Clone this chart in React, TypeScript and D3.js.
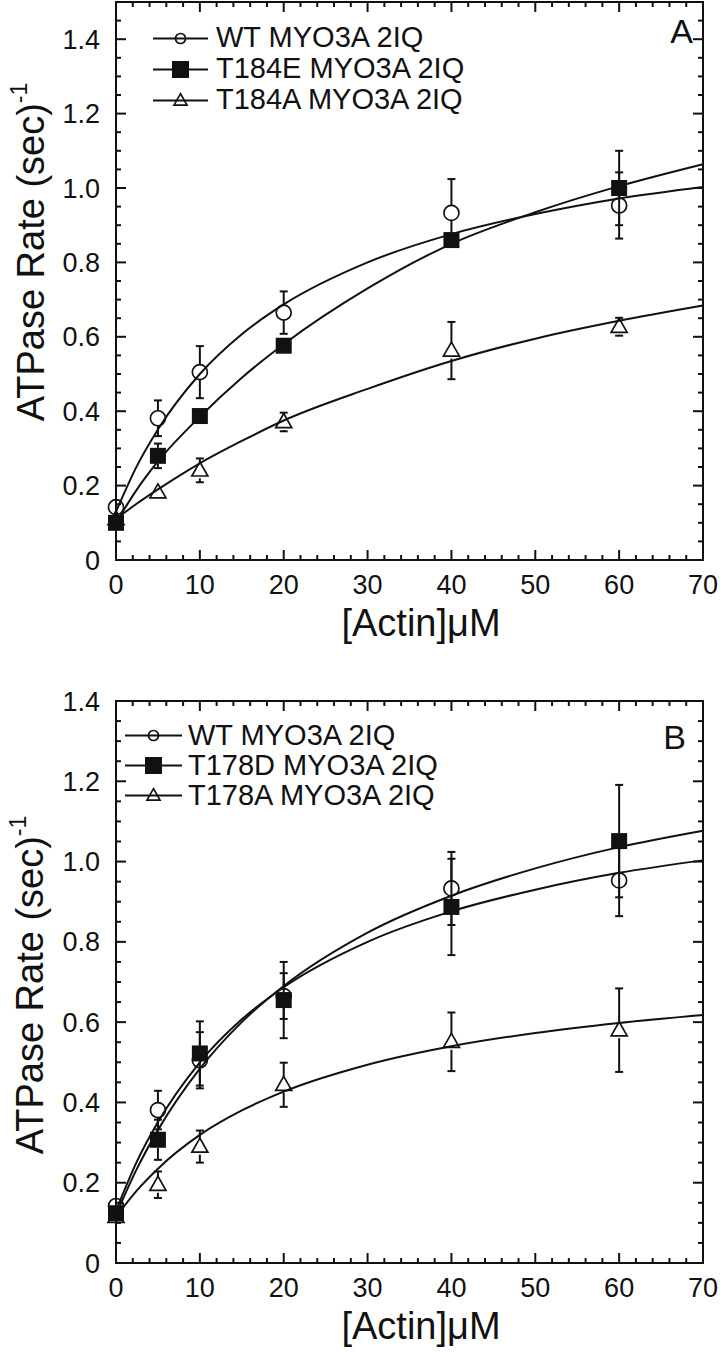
import React from "react";
import * as d3 from "d3";

// ---------- data ----------
const actin = [0, 5, 10, 20, 40, 60];
const fitX = [0, 2.5, 5, 10, 15, 20, 30, 40, 50, 60, 70];

const xTicks = [0, 10, 20, 30, 40, 50, 60, 70];
const yTicks = [0, 0.2, 0.4, 0.6, 0.8, 1.0, 1.2, 1.4];

const wtRate = [0.142, 0.381, 0.505, 0.665, 0.933, 0.953];
const wtErr = [0, 0.048, 0.07, 0.057, 0.091, 0.089];
const wtFit = [0.13, 0.253, 0.351, 0.5, 0.607, 0.687, 0.8, 0.876, 0.93, 0.972, 1.003];

const t184eRate = [0.1, 0.28, 0.387, 0.576, 0.86, 1.0];
const t184eErr = [0, 0.033, 0.02, 0.02, 0.015, 0.1];
const t184eFit = [0.1, 0.19, 0.265, 0.385, 0.49, 0.58, 0.73, 0.85, 0.935, 1.005, 1.064];

const t184aRate = [0.11, 0.182, 0.241, 0.371, 0.563, 0.627];
const t184aErr = [0, 0, 0.032, 0.025, 0.077, 0.024];
const t184aFit = [0.11, 0.152, 0.19, 0.26, 0.32, 0.375, 0.46, 0.535, 0.595, 0.643, 0.684];

const t178dRate = [0.124, 0.307, 0.522, 0.655, 0.887, 1.051];
const t178dErr = [0, 0.05, 0.08, 0.095, 0.12, 0.14];
const t178dFit = [0.12, 0.235, 0.331, 0.484, 0.6, 0.69, 0.823, 0.915, 0.983, 1.036, 1.077];

const t178aRate = [0.115, 0.195, 0.29, 0.444, 0.551, 0.58];
const t178aErr = [0, 0.033, 0.04, 0.055, 0.073, 0.104];
const t178aFit = [0.115, 0.181, 0.235, 0.319, 0.38, 0.427, 0.494, 0.54, 0.573, 0.598, 0.618];

const namesA = ["WT MYO3A 2IQ", "T184E MYO3A 2IQ", "T184A MYO3A 2IQ"];
const namesB = ["WT MYO3A 2IQ", "T178D MYO3A 2IQ", "T178A MYO3A 2IQ"];

// ---------- styling / layout ----------
const FONT = "'Liberation Sans', Arial, Helvetica, sans-serif";
type Marker = "circle" | "square" | "triangle";
const markers: Marker[] = ["circle", "square", "triangle"];

type Series = { name: string; rate: number[]; err: number[]; fit: number[]; marker: Marker };

const seriesA: Series[] = [
  { name: namesA[0], rate: wtRate, err: wtErr, fit: wtFit, marker: markers[0] },
  { name: namesA[1], rate: t184eRate, err: t184eErr, fit: t184eFit, marker: markers[1] },
  { name: namesA[2], rate: t184aRate, err: t184aErr, fit: t184aFit, marker: markers[2] },
];
const seriesB: Series[] = [
  { name: namesB[0], rate: wtRate, err: wtErr, fit: wtFit, marker: markers[0] },
  { name: namesB[1], rate: t178dRate, err: t178dErr, fit: t178dFit, marker: markers[1] },
  { name: namesB[2], rate: t178aRate, err: t178aErr, fit: t178aFit, marker: markers[2] },
];

type Layout = {
  top: number;
  bottom: number;
  yMax: number;
  letter: string;
  letterX: number;
  letterY: number;
  legX1: number;
  legX2: number;
  legTextX: number;
  legBaselines: number[];
  legLineDy: number;
  yTitleY: number;
  yTitleX: number;
};

const LEFT = 116;
const RIGHT = 703;

function MarkerShape({ kind, x, y, size }: { kind: Marker; x: number; y: number; size: number }) {
  if (kind === "circle") {
    return <circle cx={x} cy={y} r={size / 2} fill="none" stroke="#111" strokeWidth={1.7} />;
  }
  if (kind === "square") {
    return <rect x={x - size / 2} y={y - size / 2} width={size} height={size} fill="#111" />;
  }
  const w = size;
  const h = size * 0.88;
  const pts = `${x},${y - h * 0.6} ${x + w / 2},${y + h * 0.4} ${x - w / 2},${y + h * 0.4}`;
  return <polygon points={pts} fill="none" stroke="#111" strokeWidth={1.7} strokeLinejoin="miter" />;
}

function Panel({ layout, series }: { layout: Layout; series: Series[] }) {
  const x = d3.scaleLinear().domain([0, 70]).range([LEFT, RIGHT]);
  const y = d3.scaleLinear().domain([0, layout.yMax]).range([layout.bottom, layout.top]);
  const line = d3
    .line<number>()
    .x((_, i) => x(fitX[i]))
    .y((d) => y(d))
    .curve(d3.curveMonotoneX);

  const xMinor = d3.range(0, 36).map((i) => i * 2);
  const yMinor = d3.range(0, Math.round(layout.yMax / 0.05) + 1).map((i) => i * 0.05);
  const isXMajor = (v: number) => Math.abs(v / 10 - Math.round(v / 10)) < 1e-6;
  const isYMajor = (v: number) => Math.abs(v / 0.2 - Math.round(v / 0.2)) < 1e-6;
  const MAJ = 10;
  const MIN = 5;
  const markerSize = (k: Marker) => (k === "circle" ? 15 : k === "square" ? 16 : 16);
  const legSize = (k: Marker) => (k === "circle" ? 10 : k === "square" ? 17 : 13);

  return (
    <g>
      {/* fit curves */}
      {series.map((s) => (
        <path key={"fit" + s.name} d={line(s.fit) || ""} fill="none" stroke="#111" strokeWidth={2} />
      ))}
      {/* error bars */}
      {series.map((s) =>
        s.rate.map((v, i) => {
          const e = s.err[i];
          if (!e) return null;
          const cx = x(actin[i]);
          const gap = markerSize(s.marker) / 2;
          const yTop = y(v + e);
          const yBot = y(v - e);
          const yc = y(v);
          const els: React.ReactNode[] = [];
          if (yc - gap > yTop) {
            els.push(<line key="u" x1={cx} x2={cx} y1={yTop} y2={yc - gap} stroke="#111" strokeWidth={2} />);
            els.push(<line key="uc" x1={cx - 4} x2={cx + 4} y1={yTop} y2={yTop} stroke="#111" strokeWidth={2} />);
          }
          if (yc + gap < yBot) {
            els.push(<line key="d" x1={cx} x2={cx} y1={yc + gap} y2={yBot} stroke="#111" strokeWidth={2} />);
            els.push(<line key="dc" x1={cx - 4} x2={cx + 4} y1={yBot} y2={yBot} stroke="#111" strokeWidth={2} />);
          }
          return <g key={"e" + s.name + i}>{els}</g>;
        })
      )}
      {/* markers */}
      {series.map((s) =>
        s.rate.map((v, i) => (
          <MarkerShape key={"m" + s.name + i} kind={s.marker} x={x(actin[i])} y={y(v)} size={markerSize(s.marker)} />
        ))
      )}
      {/* frame */}
      <rect
        x={LEFT}
        y={layout.top}
        width={RIGHT - LEFT}
        height={layout.bottom - layout.top}
        fill="none"
        stroke="#111"
        strokeWidth={2}
      />
      {/* x ticks (bottom & top, inward) */}
      {xMinor.map((v) => {
        const len = isXMajor(v) ? MAJ : MIN;
        const px = x(v);
        return (
          <g key={"xt" + v}>
            <line x1={px} x2={px} y1={layout.bottom} y2={layout.bottom - len} stroke="#111" strokeWidth={2} />
            <line x1={px} x2={px} y1={layout.top} y2={layout.top + len} stroke="#111" strokeWidth={2} />
          </g>
        );
      })}
      {/* y ticks (left & right, inward) */}
      {yMinor.map((v) => {
        const len = isYMajor(v) ? MAJ : MIN;
        const py = y(v);
        return (
          <g key={"yt" + v}>
            <line x1={LEFT} x2={LEFT + len} y1={py} y2={py} stroke="#111" strokeWidth={2} />
            <line x1={RIGHT} x2={RIGHT - len} y1={py} y2={py} stroke="#111" strokeWidth={2} />
          </g>
        );
      })}
      {/* tick labels */}
      {xTicks.map((v) => (
        <text
          key={"xl" + v}
          x={x(v)}
          y={layout.bottom + 34}
          textAnchor="middle"
          fontSize={27}
          fontFamily={FONT}
          fill="#111"
        >
          {v}
        </text>
      ))}
      {yTicks.map((v) => (
        <text
          key={"yl" + v}
          x={100}
          y={y(v) + 9.5}
          textAnchor="end"
          fontSize={27}
          fontFamily={FONT}
          fill="#111"
        >
          {v === 0 ? "0" : d3.format(".1f")(v)}
        </text>
      ))}
      {/* axis titles */}
      <text
        x={421}
        y={layout.bottom + 76}
        textAnchor="middle"
        fontSize={38}
        fontFamily={FONT}
        fill="#111"
      >
        [Actin]μM
      </text>
      <text
        transform={`translate(${layout.yTitleX},${layout.yTitleY}) rotate(-90)`}
        textAnchor="middle"
        fontSize={38}
        fontFamily={FONT}
        fill="#111"
      >
        ATPase Rate (sec)
        <tspan fontSize={23} dy={-17}>
          -1
        </tspan>
      </text>
      {/* panel letter */}
      <text x={layout.letterX} y={layout.letterY} textAnchor="end" fontSize={34} fontFamily={FONT} fill="#111">
        {layout.letter}
      </text>
      {/* legend */}
      {series.map((s, i) => {
        const base = layout.legBaselines[i];
        const ly = base + layout.legLineDy;
        const mx = (layout.legX1 + layout.legX2) / 2;
        return (
          <g key={"lg" + s.name}>
            <line x1={layout.legX1} x2={layout.legX2} y1={ly} y2={ly} stroke="#111" strokeWidth={2} />
            <MarkerShape kind={s.marker} x={mx} y={ly} size={legSize(s.marker)} />
            <text x={layout.legTextX} y={base} fontSize={29} fontFamily={FONT} fill="#111">
              {s.name}
            </text>
          </g>
        );
      })}
    </g>
  );
}

const layoutA: Layout = {
  top: 2,
  bottom: 560,
  yMax: 1.5,
  letter: "A",
  letterX: 693,
  letterY: 43,
  legX1: 153,
  legX2: 208,
  legTextX: 216,
  legBaselines: [47, 78, 109],
  legLineDy: -8.5,
  yTitleY: 252,
  yTitleX: 44,
};

const layoutB: Layout = {
  top: 701,
  bottom: 1263,
  yMax: 1.4,
  letter: "B",
  letterX: 686,
  letterY: 749,
  legX1: 125,
  legX2: 182,
  legTextX: 188,
  legBaselines: [745, 775, 805],
  legLineDy: -9.5,
  yTitleY: 985,
  yTitleX: 43,
};

export default function App() {
  return (
    <svg
      width={720}
      height={1352}
      viewBox="0 0 720 1352"
      style={{ position: "absolute", left: 0, top: 0, background: "#fff" }}
    >
      <rect x={0} y={0} width={720} height={1352} fill="#fff" />
      <Panel layout={layoutA} series={seriesA} />
      <Panel layout={layoutB} series={seriesB} />
    </svg>
  );
}
